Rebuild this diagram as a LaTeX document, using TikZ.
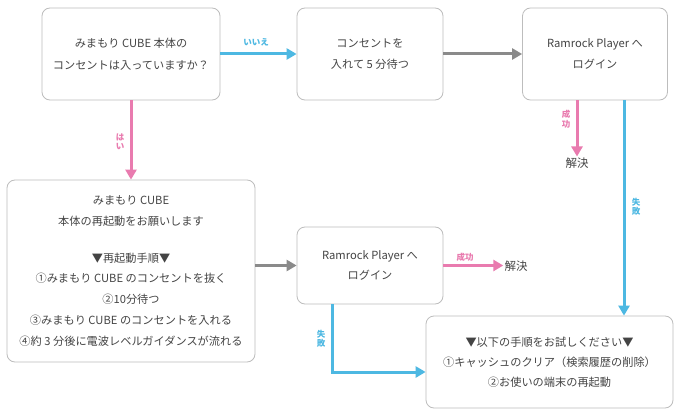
\documentclass[tikz,border=0pt]{standalone}
\usepackage{fontspec}
\setmainfont{Noto Sans CJK JP}
\usetikzlibrary{arrows.meta}
\definecolor{cblue}{HTML}{4DB8E2}
\definecolor{cpink}{HTML}{E97BAF}
\definecolor{cgray}{HTML}{8A8A8A}
\definecolor{cborder}{HTML}{BDBDBD}
\definecolor{ctext}{HTML}{444444}
\begin{document}
\begin{tikzpicture}[x=1pt,y=-1pt,
  box/.style={draw=cborder,line width=0.8pt,rounded corners=8pt,fill=white,
    align=center,font=\fontsize{11.2}{21.5}\selectfont,text=ctext,inner sep=0pt},
  arr/.style={line width=3pt,-{Triangle[width=11pt,length=10pt]}},
  barr/.style={arr,draw=cblue},
  parr/.style={arr,draw=cpink},
  garr/.style={arr,draw=cgray},
  lab/.style={font=\fontsize{8.5}{9.5}\selectfont\bfseries,inner sep=0pt,align=center},
  res/.style={font=\fontsize{11.5}{13}\selectfont,text=ctext,inner sep=1pt}]
\useasboundingbox[fill=white] (0,0) rectangle (680,412);

\node[box,minimum width=178pt,minimum height=92pt] (b1) at (131,54)
  {みまもり CUBE 本体の\\コンセントは入っていますか？};
\node[box,minimum width=146pt,minimum height=92pt] (b2) at (370,54)
  {コンセントを\\入れて 5 分待つ};
\node[box,minimum width=145pt,minimum height=92pt] (b3) at (595,54)
  {Ramrock Player へ\\ログイン};
\node[box,minimum width=248pt,minimum height=182pt,font=\fontsize{11.2}{20.8}\selectfont] (b4) at (131,271)
  {みまもり CUBE\\本体の再起動をお願いします\\[-5pt]\\▼再起動手順▼\\①みまもり CUBE のコンセントを抜く\\②10分待つ\\③みまもり CUBE のコンセントを入れる\\④約 3 分後に電波レベルガイダンスが流れる};
\node[box,minimum width=146pt,minimum height=77pt,font=\fontsize{11.2}{20}\selectfont] (b5) at (370,265.5)
  {Ramrock Player へ\\ログイン};
\node[box,minimum width=247pt,minimum height=92pt,font=\fontsize{11.2}{20}\selectfont] (b6) at (549.5,362)
  {▼以下の手順をお試しください▼\\①キャッシュのクリア（検索履歴の削除）\\②お使いの端末の再起動};
\node[res] (k1) at (577,163) {解決};
\node[res] (k2) at (516,266) {解決};

\draw[barr] (b1.east) -- (b2.west);
\draw[garr] (b2.east) -- (b3.west);
\draw[parr] (b1.south) -- (b4.north);
\draw[parr] ([xshift=-18pt]b3.south) -- (k1.north);
\draw[barr] ([xshift=29pt]b3.south) -- ([xshift=29pt]b3.south |- b6.north);
\draw[garr] (b4.east |- b5.west) -- (b5.west);
\draw[parr] (b5.east) -- (k2.west |- b5.east);
\draw[barr] ([xshift=-38pt]b5.south) |- ([yshift=-10pt]b6.west);

\node[lab,text=cblue] (l1) at (256,42) {いいえ};
\node[lab,text=cpink] (l2) at (120,142) {は\\い};
\node[lab,text=cpink] (l3) at (566,119) {成\\功};
\node[lab,text=cblue] (l4) at (636,207) {失\\敗};
\node[lab,text=cpink] (l5) at (465,257) {成功};
\node[lab,text=cblue] (l6) at (321,339) {失\\敗};
\end{tikzpicture}
\end{document}
